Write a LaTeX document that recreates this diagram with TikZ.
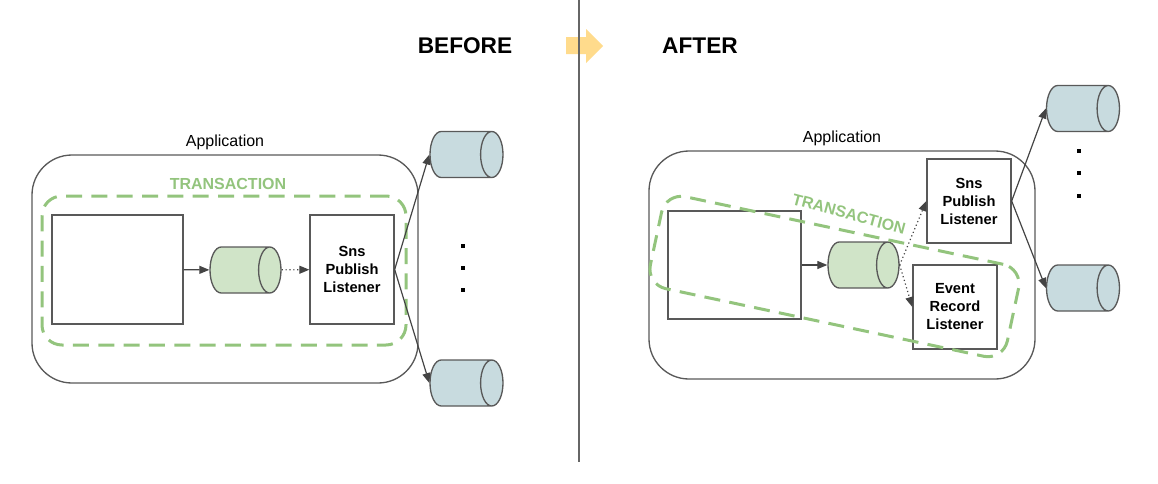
\documentclass[tikz,border=0pt]{standalone}
\usepackage{fontspec}
\setmainfont{Liberation Sans}
\usetikzlibrary{shapes.geometric,arrows.meta}

\definecolor{boxgray}{RGB}{89,89,89}
\definecolor{arrowgray}{RGB}{68,68,68}
\definecolor{divgray}{RGB}{102,102,102}
\definecolor{txgreen}{RGB}{147,196,125}
\definecolor{queuegreen}{RGB}{208,228,200}
\definecolor{topicblue}{RGB}{200,219,223}
\definecolor{noteyellow}{RGB}{255,219,140}

\tikzset{
  appbox/.style={draw=boxgray, line width=1pt, rounded corners=30pt, inner sep=0pt},
  compbox/.style={draw=boxgray, line width=1pt, fill=white, inner sep=0pt, align=center,
    font=\bfseries\fontsize{11}{13.5}\selectfont},
  txbox/.style={draw=txgreen, line width=2.25pt, dash pattern=on 12pt off 7pt,
    rounded corners=15pt, inner sep=0pt},
  queue/.style={cylinder, draw=boxgray, line width=1pt, fill=queuegreen, shape aspect=0.7,
    anchor=shape center, minimum height=53.25pt, minimum width=34.5pt, inner sep=0pt},
  topic/.style={queue, fill=topicblue, minimum height=54.75pt},
  flow/.style={draw=arrowgray, line width=0.9pt, -{Triangle[length=7.5pt,width=6pt]}},
  lazyflow/.style={flow, dotted},
  dotmark/.style={fill=black, inner sep=0pt, minimum size=2.4pt},
  applabel/.style={font=\fontsize{12}{14}\selectfont, inner sep=0.75pt},
  txlabel/.style={text=txgreen, font=\bfseries\fontsize{12}{14}\selectfont, inner sep=0.75pt},
  headlabel/.style={font=\bfseries\fontsize{17}{20}\selectfont, inner sep=0.75pt}
}
\newcommand{\canbody}{\rule{0pt}{24pt}}

\begin{document}
\begin{tikzpicture}[x=0.75pt,y=0.75pt,yscale=-1,xscale=1]
\useasboundingbox (0,0) rectangle (1158,483);
%Shape: Arrow [id:before-after]
\fill [noteyellow] (566,37) -- (586,37) -- (586,29) -- (603,46) -- (586,63) -- (586,54) -- (566,54) -- cycle ;
%Straight Lines [id:divider]
\draw [color=divgray, line width=1.1pt] (579,0) -- (579,462) ;
% Text Node
\draw (465,46) node (before) [headlabel] {BEFORE};
% Text Node
\draw (700,46) node (after) [headlabel] {AFTER};

%% before
%Shape: Rounded Rect [id:appL]
\draw (225,269) node (appL) [appbox, minimum width=289.5pt, minimum height=171pt] {};
% Text Node
\draw (225,142) node (appLabelL) [applabel] {Application};
%Shape: Rounded Rect [id:txL]
\draw (224,270.5) node (txL) [txbox, minimum width=273pt, minimum height=111.75pt] {};
% Text Node
\draw (228,184) node (txLabelL) [txlabel] {TRANSACTION};
%Shape: Rectangle [id:svcL]
\draw (117.5,269.5) node (svcL) [compbox, minimum width=98.25pt, minimum height=81.75pt] {};
%Shape: Can [id:queueL]
\draw (245.5,270) node (queueL) [queue] {\canbody};
%Shape: Rectangle [id:snsL]
\draw (352,269.5) node (snsL) [compbox, minimum width=63pt, minimum height=81.75pt] {Sns\\Publish\\Listener};
%Shape: Can [id:topicLa]
\draw (466.5,154.5) node (topicLa) [topic] {\canbody};
%Shape: Can [id:topicLb]
\draw (466.5,383) node (topicLb) [topic] {\canbody};
\draw (463,246) node (dotLa) [dotmark] {};
\draw (463,268) node (dotLb) [dotmark] {};
\draw (463,290) node (dotLc) [dotmark] {};
%Straight Lines
\draw [flow] (svcL) -- (queueL) ;
\draw [lazyflow] (queueL) -- (snsL) ;
\draw [flow] (snsL.east) -- (topicLa.west) ;
\draw [flow] (snsL.east) -- (topicLb.west) ;

%% after
%Shape: Rounded Rect [id:appR]
\draw (842,265) node (appR) [appbox, minimum width=289.5pt, minimum height=171pt] {};
% Text Node
\draw (842,138) node (appLabelR) [applabel] {Application};
%Shape: Rectangle [id:svcR]
\draw (734.5,265) node (svcR) [compbox, minimum width=99.75pt, minimum height=81pt] {};
%Shape: Can [id:queueR]
\draw (863.5,265) node (queueR) [queue] {\canbody};
%Shape: Rectangle [id:snsR]
\draw (969,201) node (snsR) [compbox, minimum width=63pt, minimum height=63pt] {Sns\\Publish\\Listener};
%Shape: Rectangle [id:recordR]
\draw (955,307) node (recordR) [compbox, minimum width=63pt, minimum height=63pt] {Event\\Record\\Listener};
%Shape: Rotated Rounded Rect [id:txR]
\draw (834.5,276.5) node (txR) [txbox, rotate=-12, minimum width=273.75pt, minimum height=70.5pt] {};
% Text Node
\draw (849,214) node (txLabelR) [txlabel, rotate=-15] {TRANSACTION};
%Shape: Can [id:topicRa]
\draw (1083,108.5) node (topicRa) [topic] {\canbody};
%Shape: Can [id:topicRb]
\draw (1083,288) node (topicRb) [topic] {\canbody};
\draw (1079,151) node (dotRa) [dotmark] {};
\draw (1079,173) node (dotRb) [dotmark] {};
\draw (1079,196) node (dotRc) [dotmark] {};
%Straight Lines
\draw [flow] (svcR) -- (queueR) ;
\draw [lazyflow] (queueR.east) -- (snsR.west) ;
\draw [lazyflow] (queueR.east) -- (recordR.west) ;
\draw [flow] (snsR.east) -- (topicRa.west) ;
\draw [flow] (snsR.east) -- (topicRb.west) ;
\end{tikzpicture}
\end{document}
